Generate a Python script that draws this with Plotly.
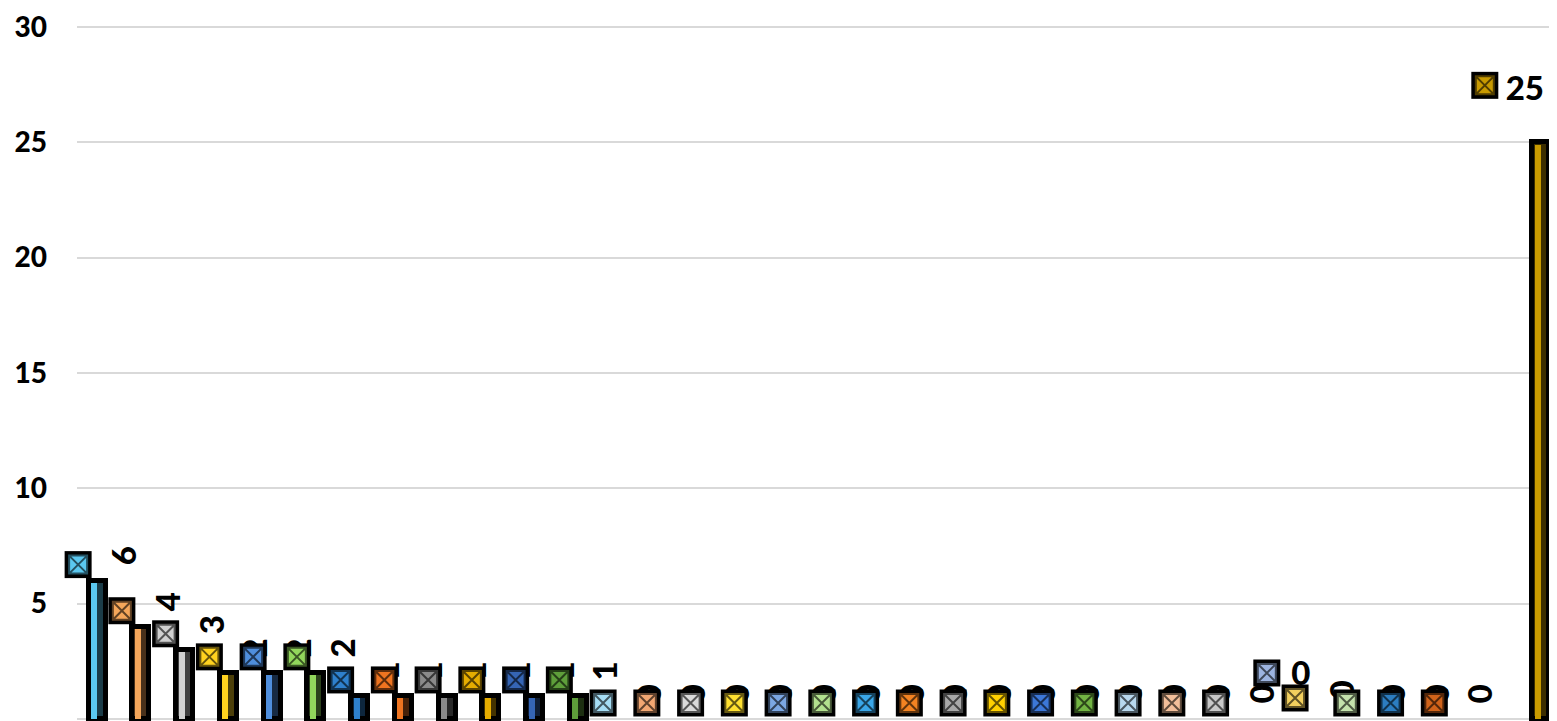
import plotly.graph_objects as go

# ---------------- data ----------------
categories = [f"Item {k}" for k in range(1, 35)]
values = [6, 4, 3, 2, 2, 2, 1, 1, 1, 1, 1, 1,
          0, 0, 0, 0, 0, 0, 0, 0, 0, 0, 0, 0, 0, 0, 0, 0, 0, 0, 0, 0, 0,
          25]
colors = [
    "#5BC8F0", "#F4A65A", "#D0D0D0", "#FFD21F", "#4F8EDC", "#92D65C",
    "#2E80CC", "#EE7420", "#8A8A8A", "#E5AC00", "#3565B5", "#5E9E3A",
    "#A5DDF5", "#F2A772", "#DADADA", "#FFE030", "#7BA7E3", "#B2E08E",
    "#3AA6E8", "#F28322", "#A8A8A8", "#FFD000", "#3C77D8", "#72B443",
    "#B8D8EE", "#F2BE9A", "#C8C8C8", "#9CB4E0", "#F2CF5E", "#C4E2AC",
    "#2C7DC0", "#D0631A", "#7F7F7F", "#C89A00",
]
y_ticks = [0, 5, 10, 15, 20, 25, 30]

# ---------------- layout geometry ----------------
# the page body adds an 8px offset, so the figure is sized to fit the window
W, H = 1549, 713
ML, MR, MT, MB = 69, 0, 0, 0
n = len(categories)
x_idx = list(range(n))
x_range = [-0.46, n - 1 + 0.37]
y_range = [-0.087, 30.824]
px_x = (W - ML - MR) / (x_range[1] - x_range[0])
px_y = (H - MT - MB) / (y_range[1] - y_range[0])


def shade(hexc, f):
    h = hexc.lstrip("#")
    r, g, b = (int(h[i:i + 2], 16) for i in (0, 2, 4))
    return "#%02x%02x%02x" % (int(r * f), int(g * f), int(b * f))


dark = [shade(c, 0.30) for c in colors]
mid_dark = [shade(c, 0.40) for c in colors]

# label placement rule (pixels relative to bar top) and a few nudges
MK_DX, MK_DY = -19, 16
TX_DX, TX_DY = 26, 25
nudges = {
    27: dict(mk=(-11.5, 46), tx=(22.5, 47), angle=0),
    28: dict(mk=(-27, 21), tx=(19, 29), angle=-90),
    32: None,
    33: dict(mk=(-56, 57), tx=(-16, 55), angle=0),
}

fig = go.Figure()

# bars: dark body with black outline (no outline for empty bars)
bar_w_px = 17
fig.add_trace(go.Bar(
    x=x_idx, y=values, width=bar_w_px / px_x,
    marker=dict(color=dark,
                line=dict(color="black", width=[5 if v > 0 else 0 for v in values])),
    hoverinfo="skip", showlegend=False,
))
# coloured bevel stripe on the left half of the bar interior
stripe_w_px = 6
fig.add_trace(go.Bar(
    x=x_idx, y=[max(v - 2.5 / px_y, 0) for v in values],
    width=stripe_w_px / px_x, offset=-stripe_w_px / px_x,
    marker=dict(color=colors, line=dict(width=0)),
    hoverinfo="skip", showlegend=False,
))

# data labels: markers + text
mk_x, mk_y, mk_c, mk_d = [], [], [], []
shapes = []
half = 25
for i, v in enumerate(values):
    nd = nudges.get(i, "default")
    if nd is None:
        continue
    if nd == "default":
        mdx, mdy = MK_DX, MK_DY
        tdx, tdy = TX_DX, TX_DY
        ang = -90
    else:
        (mdx, mdy), (tdx, tdy), ang = nd["mk"], nd["tx"], nd["angle"]
    mk_x.append(i + mdx / px_x)
    mk_y.append(v + mdy / px_y)
    mk_c.append(colors[i])
    mk_d.append(mid_dark[i])
    cx = i + tdx / px_x
    cy = v + tdy / px_y
    shapes.append(dict(
        type="rect", xref="x", yref="y",
        x0=cx - half / px_x, x1=cx + half / px_x,
        y0=cy - half / px_y, y1=cy + half / px_y,
        line=dict(width=0), fillcolor="rgba(0,0,0,0)", layer="between",
        label=dict(text=str(v), textangle=ang, textposition="middle center",
                   font=dict(family="Lato", size=33, color="black", weight=900)),
    ))

fig.add_trace(go.Scatter(
    x=mk_x, y=mk_y, mode="markers",
    marker=dict(symbol="square", size=27, color="black", line=dict(width=0)),
    hoverinfo="skip", showlegend=False, cliponaxis=False,
))
fig.add_trace(go.Scatter(
    x=mk_x, y=mk_y, mode="markers",
    marker=dict(symbol="square-x", size=18, color=mk_c,
                line=dict(color=mk_d, width=2)),
    hoverinfo="skip", showlegend=False, cliponaxis=False,
))

fig.update_layout(
    width=W, height=H,
    margin=dict(l=ML, r=MR, t=MT, b=MB, autoexpand=False),
    paper_bgcolor="white", plot_bgcolor="white",
    barmode="overlay", bargap=0,
    shapes=shapes,
    xaxis=dict(range=x_range, showgrid=False, zeroline=False, automargin=False,
               showticklabels=False, ticks="", showline=False),
    yaxis=dict(range=y_range, tickvals=y_ticks, automargin=False,
               ticktext=[str(t) for t in y_ticks],
               showgrid=True, gridcolor="#D9D9D9", gridwidth=2,
               zeroline=False, showline=False, ticks="",
               ticklabelstandoff=29,
               tickfont=dict(family="Lato", size=28, color="black", weight=900)),
)

fig.write_html("out.html")
